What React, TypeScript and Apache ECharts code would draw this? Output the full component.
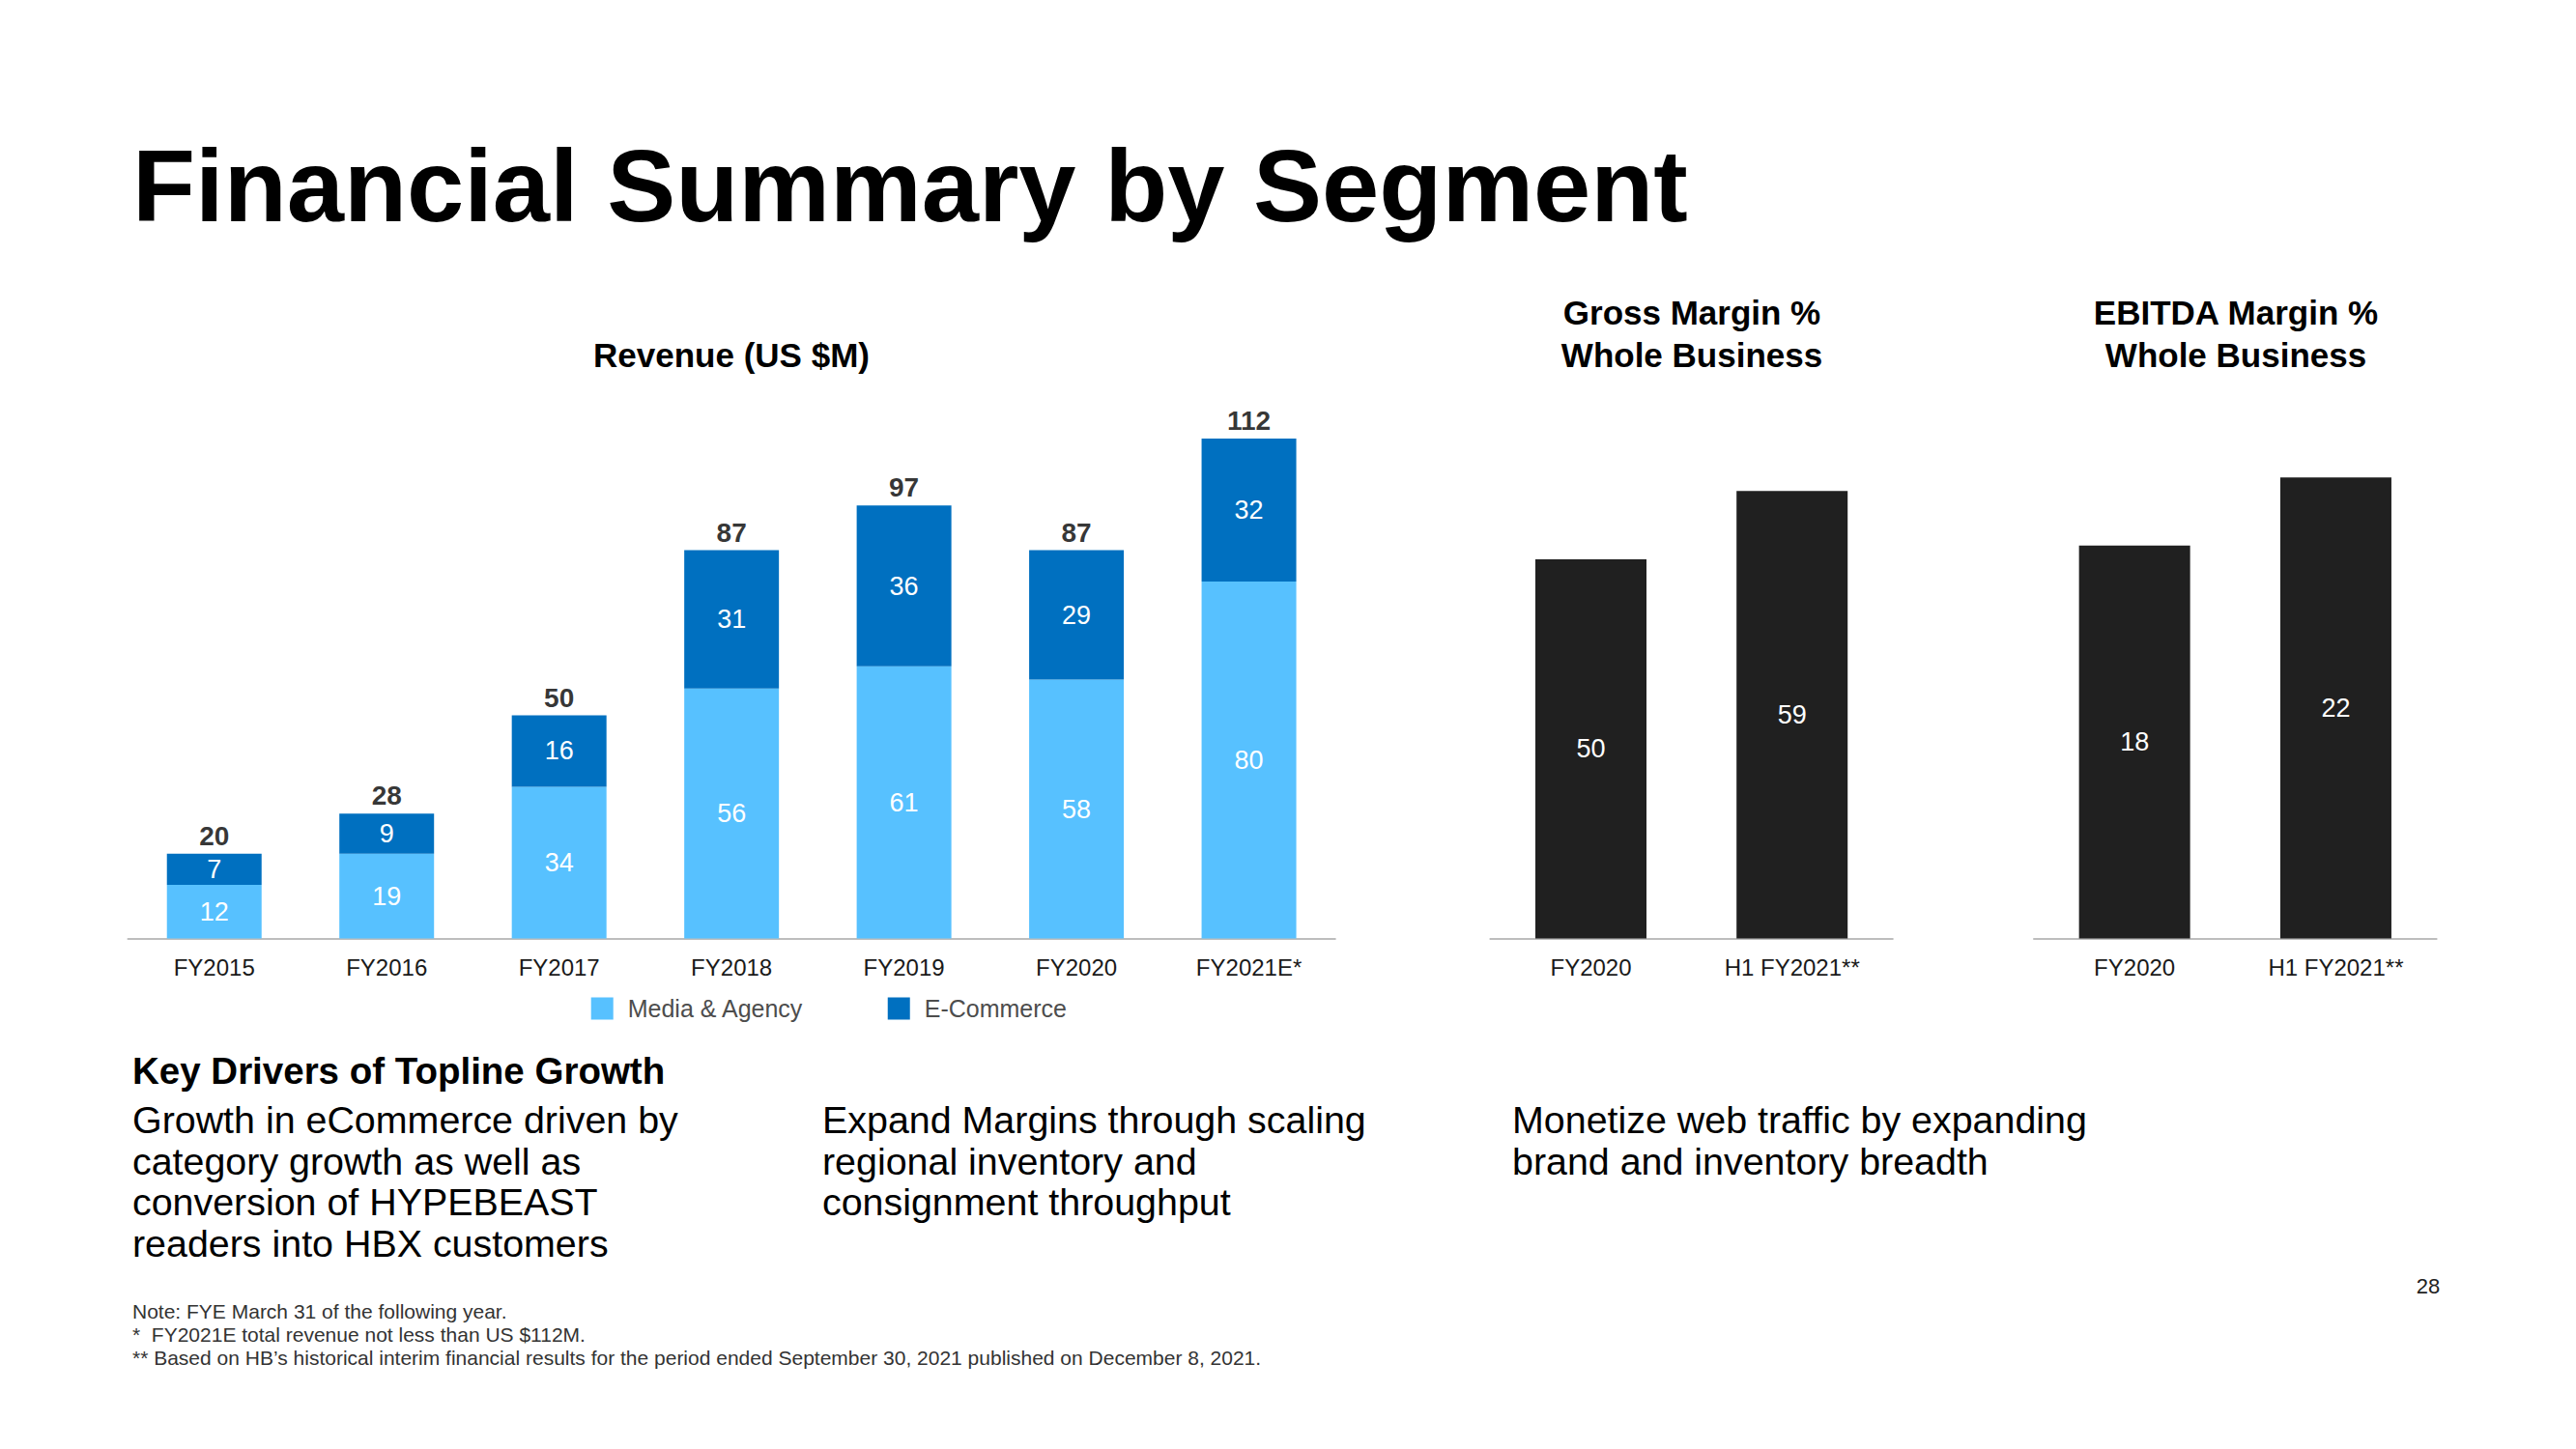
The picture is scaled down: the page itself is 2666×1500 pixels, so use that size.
import React, { useEffect, useRef } from "react";
import * as echarts from "echarts";

const FONT = '"Liberation Sans", Arial, Helvetica, sans-serif';

// Revenue (US $M)
const categories = ["FY2015", "FY2016", "FY2017", "FY2018", "FY2019", "FY2020", "FY2021E*"];
const mediaAgency = [12, 19, 34, 56, 61, 58, 80];
const eCommerce = [7, 9, 16, 31, 36, 29, 32];
const totals = [20, 28, 50, 87, 97, 87, 112];

// Margins (%) — bar heights; labels shown rounded
const marginCategories = ["FY2020", "H1 FY2021**"];
const grossMargin = [50, 59];
const ebitdaMargin = [18.4, 21.6];

const LIGHT_BLUE = "#57C1FF";
const DARK_BLUE = "#0070C0";
const BLACK_BAR = "#202020";

function txt(
  text: string,
  x: number,
  y: number,
  size: number,
  opts: { bold?: boolean; fill?: string; align?: string; vAlign?: string; lineHeight?: number } = {}
) {
  const align = opts.align || "left";
  const vAlign = opts.vAlign || "middle";
  const style: any = {
    text,
    fontSize: size,
    fontFamily: FONT,
    fontWeight: opts.bold ? "bold" : "normal",
    fill: opts.fill || "#000",
    align,
    verticalAlign: vAlign,
    textAlign: align,
    textVerticalAlign: vAlign,
  };
  if (opts.lineHeight) style.lineHeight = opts.lineHeight;
  return { type: "text", x, y, style, silent: true };
}

export default function App() {
  const ref = useRef<HTMLDivElement>(null);

  useEffect(() => {
    document.body.style.margin = "0";
    document.body.style.overflow = "hidden";
    if (!ref.current) return;
    const chart = echarts.init(ref.current, undefined, { renderer: "svg" });

    const axisLabel = { fontSize: 24, color: "#1a1a1a", fontFamily: FONT, margin: 18 };
    const axisLine = { show: true, lineStyle: { color: "#bdbdbd", width: 2 } };
    const insideLabel = {
      show: true,
      position: "inside",
      color: "#fff",
      fontSize: 27,
      fontFamily: FONT,
      formatter: (p: any) => String(Math.round(p.value)),
    };

    const option: any = {
      animation: false,
      backgroundColor: "#fff",
      textStyle: { fontFamily: FONT },
      legend: {
        data: ["Media & Agency", "E-Commerce"],
        left: 606.7,
        top: 1024,
        itemWidth: 23,
        itemHeight: 23,
        itemGap: 87,
        icon: "rect",
        selectedMode: false,
        textStyle: {
          fontSize: 25,
          color: "#4d4d4d",
          fontFamily: FONT,
          lineHeight: 30,
          padding: [0, 0, 0, 10],
        },
      },
      grid: [
        { left: 132.5, top: 324.7, width: 1249.3, height: 646.8, containLabel: false },
        { left: 1542.4, top: 343.5, width: 416.4, height: 628, containLabel: false },
        { left: 2105, top: 352.7, width: 416.6, height: 618.8, containLabel: false },
      ],
      xAxis: [
        {
          type: "category",
          gridIndex: 0,
          data: categories,
          axisTick: { show: false },
          axisLine,
          axisLabel,
        },
        {
          type: "category",
          gridIndex: 1,
          data: marginCategories,
          axisTick: { show: false },
          axisLine,
          axisLabel,
        },
        {
          type: "category",
          gridIndex: 2,
          data: marginCategories,
          axisTick: { show: false },
          axisLine,
          axisLabel,
        },
      ],
      yAxis: [
        { type: "value", gridIndex: 0, min: 0, max: 140, show: false },
        { type: "value", gridIndex: 1, min: 0, max: 80, show: false },
        { type: "value", gridIndex: 2, min: 0, max: 28, show: false },
      ],
      series: [
        {
          name: "Media & Agency",
          type: "bar",
          stack: "revenue",
          xAxisIndex: 0,
          yAxisIndex: 0,
          barWidth: 98,
          data: mediaAgency,
          itemStyle: { color: LIGHT_BLUE },
          label: insideLabel,
        },
        {
          name: "E-Commerce",
          type: "bar",
          stack: "revenue",
          xAxisIndex: 0,
          yAxisIndex: 0,
          barWidth: 98,
          data: eCommerce,
          itemStyle: { color: DARK_BLUE },
          label: insideLabel,
        },
        {
          name: "Total",
          type: "scatter",
          xAxisIndex: 0,
          yAxisIndex: 0,
          symbol: "circle",
          symbolSize: 1,
          itemStyle: { color: "rgba(0,0,0,0)" },
          z: 5,
          data: mediaAgency.map((v, i) => v + eCommerce[i]),
          label: {
            show: true,
            position: "top",
            distance: 4,
            fontSize: 28,
            fontWeight: "bold",
            color: "#000",
            fontFamily: FONT,
            formatter: (p: any) => String(totals[p.dataIndex]),
          },
        },
        {
          name: "Gross Margin %",
          type: "bar",
          xAxisIndex: 1,
          yAxisIndex: 1,
          barWidth: 115,
          data: grossMargin,
          itemStyle: { color: BLACK_BAR },
          label: insideLabel,
        },
        {
          name: "EBITDA Margin %",
          type: "bar",
          xAxisIndex: 2,
          yAxisIndex: 2,
          barWidth: 115,
          data: ebitdaMargin,
          itemStyle: { color: BLACK_BAR },
          label: insideLabel,
        },
      ],
      graphic: [
        txt("Financial Summary by Segment", 137, 192, 106.5, { bold: true }),
        txt("Revenue (US $M)", 757, 367, 35, { bold: true, align: "center" }),
        txt("Gross Margin %\nWhole Business", 1751, 345, 35, {
          bold: true,
          align: "center",
          lineHeight: 44,
        }),
        txt("EBITDA Margin %\nWhole Business", 2314, 345, 35, {
          bold: true,
          align: "center",
          lineHeight: 44,
        }),
        txt("Key Drivers of Topline Growth", 137, 1108, 38.5, { bold: true }),
        txt(
          "Growth in eCommerce driven by\ncategory growth as well as\nconversion of HYPEBEAST\nreaders into HBX customers",
          137,
          1138,
          39.4,
          { vAlign: "top", lineHeight: 42.5 }
        ),
        txt(
          "Expand Margins through scaling\nregional inventory and\nconsignment throughput",
          851,
          1138,
          39.4,
          { vAlign: "top", lineHeight: 42.5 }
        ),
        txt(
          "Monetize web traffic by expanding\nbrand and inventory breadth",
          1565,
          1138,
          39.4,
          { vAlign: "top", lineHeight: 42.5 }
        ),
        txt(
          "Note: FYE March 31 of the following year.\n*\u00a0 FY2021E total revenue not less than US $112M.\n** Based on HB\u2019s historical interim financial results for the period ended September 30, 2021 published on December 8, 2021.",
          137,
          1345.5,
          21,
          { vAlign: "top", lineHeight: 23.8, fill: "#333" }
        ),
        txt("28", 2513, 1331, 22, { align: "center", fill: "#222" }),
      ],
    };

    chart.setOption(option);
    return () => {
      chart.dispose();
    };
  }, []);

  return <div ref={ref} style={{ width: 2666, height: 1500 }} />;
}
